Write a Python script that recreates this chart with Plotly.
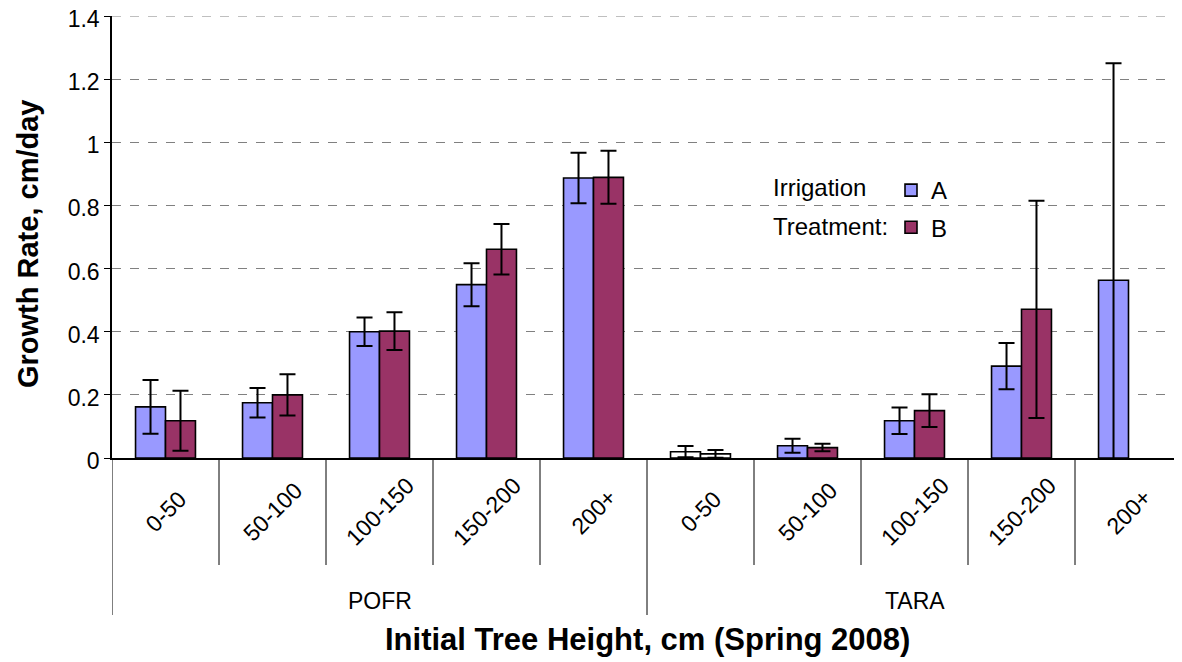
import plotly.graph_objects as go

species = ["POFR", "TARA"]
classes = ["0-50", "50-100", "100-150", "150-200", "200+"]
series_names = ["A", "B"]
y_tickvals = [0, 0.2, 0.4, 0.6, 0.8, 1.0, 1.2, 1.4]
y_ticktext = ["0", "0.2", "0.4", "0.6", "0.8", "1", "1.2", "1.4"]

vals_a = [0.162, 0.175, 0.400, 0.549, 0.887, 0.020, 0.039, 0.118, 0.291, 0.563]
err_a = [0.085, 0.047, 0.045, 0.068, 0.080, 0.018, 0.022, 0.042, 0.073, 0.687]
vals_b = [0.118, 0.200, 0.402, 0.661, 0.889, 0.013, 0.033, 0.150, 0.471, None]
err_b = [0.095, 0.065, 0.060, 0.080, 0.084, 0.012, 0.012, 0.052, 0.344, None]

color_a = "#9999FF"
color_b = "#993366"
fill_a = [color_a] * 10
fill_b = [color_b] * 10
fill_a[5] = "white"
fill_b[5] = "white"

FONT = "Liberation Sans, Arial, sans-serif"
x = list(range(10))

fig = go.Figure()
fig.add_trace(go.Bar(
    x=x, y=vals_a, name=series_names[0], legendgroup="a",
    marker=dict(color=fill_a, line=dict(color="black", width=1.6)),
    error_y=dict(type="data", array=err_a, color="black", thickness=2, width=8),
))
fig.add_trace(go.Bar(
    x=x, y=vals_b, name=series_names[1], legendgroup="b",
    marker=dict(color=fill_b, line=dict(color="black", width=1.6)),
    error_y=dict(type="data", array=err_b, color="black", thickness=2, width=8),
))

# page has an 8px body margin; plot area in page coords: x 112..1182, y 16..458
OFF = 8
W, HGT = 1182 - OFF, 662 - OFF
L, T = 112 - OFF, 16 - OFF
PW, PH = 1070, 442
R = W - L - PW
B = HGT - T - PH

def py(pix):
    return (458 - pix) / PH

def px(pix):
    return (pix - 112) / PW

annotations = []
for i in range(10):
    annotations.append(dict(
        x=i, y=py(512), xref="x", yref="paper", text=classes[i % 5],
        showarrow=False, textangle=-45, font=dict(family=FONT, size=23, color="black"),
        xanchor="center", yanchor="middle"))
for k, sp in enumerate(species):
    annotations.append(dict(
        x=2 + 5 * k, y=py(601), xref="x", yref="paper", text=sp,
        showarrow=False, font=dict(family=FONT, size=23, color="black"),
        xanchor="center", yanchor="middle"))
annotations.append(dict(
    x=px(647), y=py(640), xref="paper", yref="paper",
    text="<b>Initial Tree Height, cm (Spring 2008)</b>", showarrow=False,
    font=dict(family=FONT, size=31, color="black"), xanchor="center", yanchor="middle"))
annotations.append(dict(
    x=px(28), y=py(244), xref="paper", yref="paper",
    text="<b>Growth Rate, cm/day</b>", showarrow=False, textangle=-90,
    font=dict(family=FONT, size=29, color="black"), xanchor="center", yanchor="middle"))
annotations.append(dict(
    x=px(771), y=py(188), xref="paper", yref="paper", text="Irrigation",
    showarrow=False, font=dict(family=FONT, size=24, color="black"),
    xanchor="left", yanchor="middle"))
annotations.append(dict(
    x=px(771), y=py(226), xref="paper", yref="paper", text="Treatment:",
    showarrow=False, font=dict(family=FONT, size=24, color="black"),
    xanchor="left", yanchor="middle"))

shapes = []
for j in range(11):
    xb = j - 0.5
    long = j in (0, 5, 10)
    shapes.append(dict(type="line", xref="x", yref="paper", x0=xb, x1=xb,
                       y0=0, y1=py(615) if long else py(565),
                       line=dict(color="black", width=1)))
# top gridline (plotly drops gridlines lying on the plot edge)
shapes.append(dict(type="line", xref="paper", yref="y", x0=0, x1=1,
                   y0=y_tickvals[-1], y1=y_tickvals[-1], layer="below",
                   line=dict(color="#808080", width=1, dash="dash")))

fig.update_layout(
    width=W, height=HGT,
    margin=dict(l=L, r=R, t=T, b=B, pad=0, autoexpand=False),
    plot_bgcolor="white", paper_bgcolor="white",
    barmode="group", bargap=0.44, bargroupgap=0,
    font=dict(family=FONT, color="black"),
    showlegend=True,
    legend=dict(x=px(891), y=py(168), xanchor="left", yanchor="top",
                font=dict(family=FONT, size=24, color="black"),
                tracegroupgap=3, bgcolor="rgba(0,0,0,0)", itemwidth=30),
    annotations=annotations, shapes=shapes,
)
fig.update_xaxes(range=[-0.5, 9.5], showticklabels=False, showgrid=False, automargin=False,
                 showline=True, linecolor="black", linewidth=1.5, zeroline=False, ticks="")
fig.update_yaxes(range=[0, 1.4], tickvals=y_tickvals, ticktext=y_ticktext,
                 ticklabeloverflow="allow", automargin=False, ticklabelshift=3,
                 showgrid=True, gridcolor="#808080",
                 griddash="dash", gridwidth=1, showline=True, linecolor="black", linewidth=1.5,
                 ticks="outside", ticklen=6, tickcolor="black", zeroline=False,
                 tickfont=dict(family=FONT, size=23, color="black"))

fig.write_html("out.html")
